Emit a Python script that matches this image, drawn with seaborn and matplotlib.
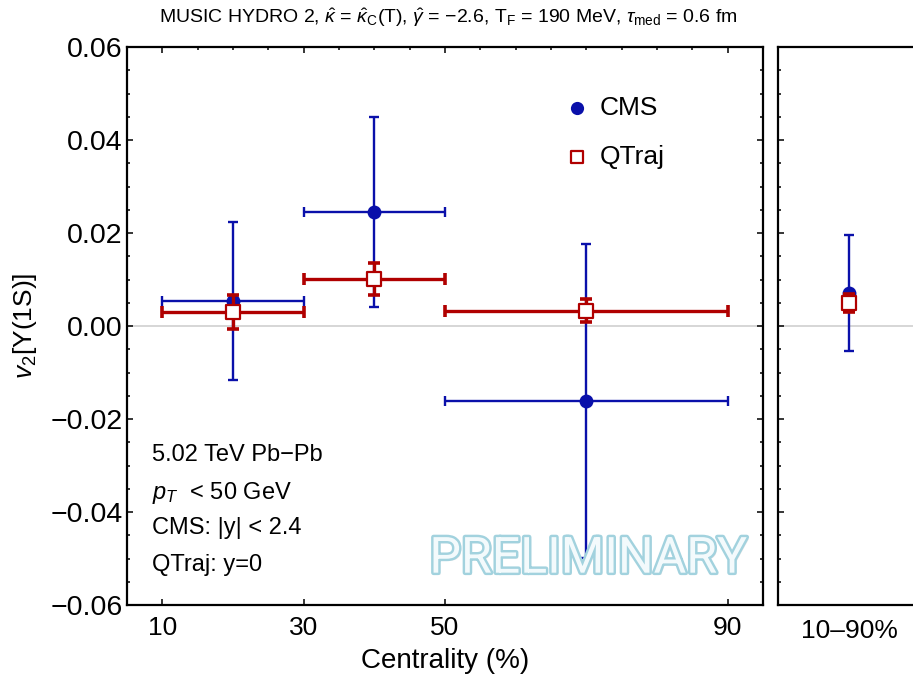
import numpy as np
import pandas as pd
import matplotlib.pyplot as plt
import matplotlib.patheffects as pe
import seaborn as sns

# centrality bins (%)
cent_lo = [10, 30, 50]
cent_hi = [30, 50, 90]
cent_mid = [20, 40, 70]

# CMS data
cms_v2 = [0.0053, 0.0245, -0.0161]
cms_err = [0.0170, 0.0205, 0.0337]

# QTraj prediction
qtraj_v2 = [0.0030, 0.0101, 0.0033]
qtraj_err = [0.0036, 0.0035, 0.0025]

# integrated 10-90%
int_label = "10\u201390%"
cms_int = [0.0071]
cms_int_err = [0.0124]
qtraj_int = [0.0049]
qtraj_int_err = [0.0019]

yticks = [-0.06, -0.04, -0.02, 0.0, 0.02, 0.04, 0.06]
ytick_labels = ["\u22120.06", "\u22120.04", "\u22120.02", "0.00", "0.02", "0.04", "0.06"]
xticks = [10, 30, 50, 90]

CMS_COL = "#0a10aa"
QT_COL = "#b00000"

sns.set_theme(style="ticks")
plt.rcParams['font.family'] = ['Liberation Sans', 'DejaVu Sans']
plt.rcParams['mathtext.fontset'] = 'custom'
plt.rcParams['mathtext.rm'] = 'Liberation Sans'
plt.rcParams['mathtext.it'] = 'Liberation Sans:italic'
for k in ('text.color', 'axes.labelcolor', 'xtick.color', 'ytick.color'):
    plt.rcParams[k] = 'black'

df_cms = pd.DataFrame({'cent': cent_mid, 'v2': cms_v2})
df_qt = pd.DataFrame({'cent': cent_mid, 'v2': qtraj_v2})
xerr = [np.subtract(cent_mid, cent_lo), np.subtract(cent_hi, cent_mid)]

fig = plt.figure(figsize=(9.13, 6.84), dpi=100)
ax = fig.add_axes([127/913, 79/684, 636/913, 558/684])
ax2 = fig.add_axes([778/913, 79/684, 142/913, 558/684])

for a in (ax, ax2):
    a.axhline(0, color='#cfcfcf', lw=1.2, zorder=0.5)

# main panel
ax.errorbar(cent_mid, cms_v2, xerr=xerr, yerr=cms_err, fmt='none', ecolor=CMS_COL,
            elinewidth=1.7, capsize=3.6, capthick=1.7, zorder=2)
sns.scatterplot(x='cent', y='v2', data=df_cms, ax=ax, color=CMS_COL, marker='o', s=100,
                linewidth=0, label='CMS', zorder=3)
ax.errorbar(cent_mid, qtraj_v2, xerr=xerr, yerr=qtraj_err, fmt='none', ecolor=QT_COL,
            elinewidth=2.4, capsize=4.2, capthick=2.6, zorder=4)
sns.scatterplot(x='cent', y='v2', data=df_qt, ax=ax, color='white', edgecolor=QT_COL,
                marker='s', s=88, linewidth=1.6, label='QTraj', zorder=5)

ax.set_xlim(5, 95)
ax.set_ylim(-0.06, 0.06)
ax.set_xticks(xticks)
ax.set_xticks(np.arange(10, 95, 5), minor=True)
ax.set_yticks(yticks)
ax.set_yticklabels(ytick_labels)
ax.set_yticks(np.arange(-0.06, 0.0601, 0.005), minor=True)
ax.tick_params(axis='x', which='major', labelsize=19, pad=8)
ax.tick_params(axis='x', which='minor', bottom=False, top=True)
ax.tick_params(axis='y', which='major', labelsize=20.5, pad=3)
ax.tick_params(which='both', direction='in', top=True, right=True, colors='black',
               width=1.1)
ax.tick_params(which='major', length=4.5)
ax.tick_params(which='minor', length=2.5)
ax.set_xlabel("Centrality (%)", fontsize=20, labelpad=6)
ax.set_ylabel("$v_2$[\u03a5(1S)]", fontsize=19, labelpad=8)

leg = ax.legend(frameon=False, fontsize=19, loc='upper left', bbox_to_anchor=(0.65, 0.955),
                handlelength=1.0, handletextpad=0.35, labelspacing=0.95, markerscale=0.95)

txt = ["5.02 TeV Pb\u2212Pb", r"$p_T$  < 50 GeV", "CMS: |y| < 2.4", "QTraj: y=0"]
ypos = [0.269, 0.2007, 0.138, 0.0717]
for t, yy in zip(txt, ypos):
    ax.text(0.039, yy, t, transform=ax.transAxes, fontsize=17, va='center', ha='left')

ax.text(0.7256, 0.083, "PRELIMINARY", transform=ax.transAxes, fontsize=36,
        family='Roboto', color='#f3fafc', ha='center', va='center', zorder=10,
        path_effects=[pe.withSimplePatchShadow(offset=(1.5, -1.5), shadow_rgbFace='#bbbbbb', alpha=0.4),
                      pe.Stroke(linewidth=3.5, foreground='#a2d2de'), pe.Normal()])

# integrated panel
ax2.errorbar([1], cms_int, yerr=cms_int_err, fmt='none', ecolor=CMS_COL,
             elinewidth=1.7, capsize=3.6, capthick=1.7, zorder=2)
sns.scatterplot(x=[1], y=cms_int, ax=ax2, color=CMS_COL, marker='o', s=100, linewidth=0, zorder=3)
ax2.errorbar([1], qtraj_int, yerr=qtraj_int_err, fmt='none', ecolor=QT_COL,
             elinewidth=2.4, capsize=4.2, capthick=2.6, zorder=4)
sns.scatterplot(x=[1], y=qtraj_int, ax=ax2, color='white', edgecolor=QT_COL, marker='s',
                s=88, linewidth=1.6, zorder=5)
ax2.set_xlim(0, 2)
ax2.set_ylim(-0.06, 0.06)
ax2.set_xticks([1])
ax2.set_xticklabels([int_label])
ax2.set_yticks(yticks)
ax2.set_yticks(np.arange(-0.06, 0.0601, 0.005), minor=True)
ax2.tick_params(axis='x', length=0, labelsize=19, pad=10)
ax2.tick_params(axis='y', which='both', direction='in', labelleft=False, width=1.1)
ax2.tick_params(axis='y', which='major', length=4.5)
ax2.tick_params(axis='y', which='minor', length=2.5)

for a in (ax, ax2):
    for s in a.spines.values():
        s.set_linewidth(1.6)
        s.set_color('black')

fig.text(448/913, 1 - 18/684, r"MUSIC HYDRO 2, $\hat{\kappa}$ = $\hat{\kappa}_\mathrm{C}$(T), "
         r"$\hat{\gamma}$ = $-$2.6, T$_\mathrm{F}$ = 190 MeV, $\tau_\mathrm{med}$ = 0.6 fm",
         ha='center', va='center', fontsize=14)

fig.savefig("out.png", dpi=100)
